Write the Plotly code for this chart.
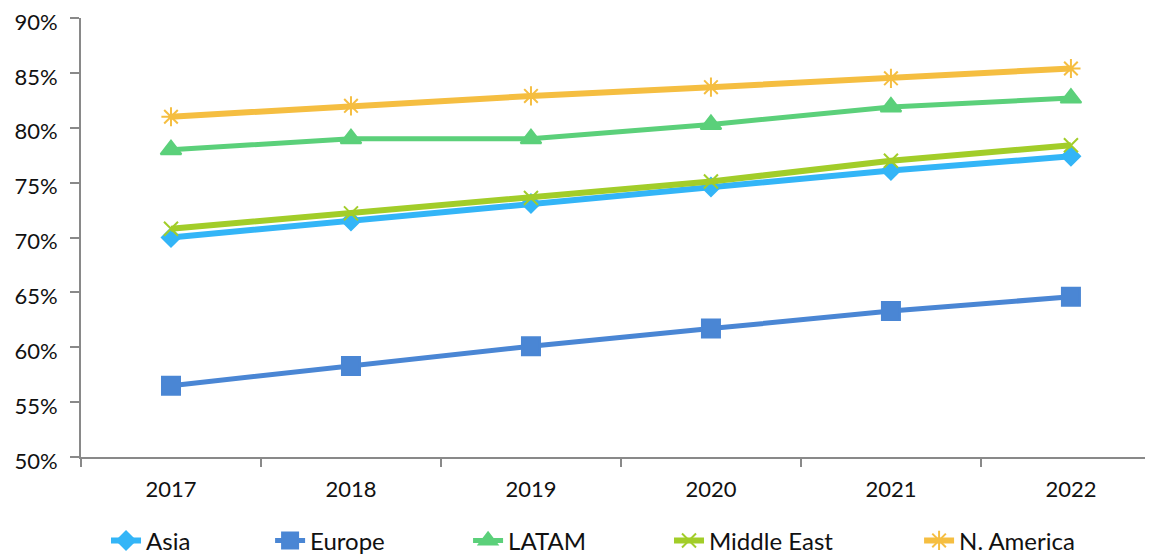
import plotly.graph_objects as go

years = ["2017", "2018", "2019", "2020", "2021", "2022"]
asia = [70.0, 71.5, 73.1, 74.6, 76.1, 77.4]
europe = [56.5, 58.3, 60.1, 61.7, 63.3, 64.6]
latam = [78.0, 79.0, 79.0, 80.3, 81.9, 82.7]
middle_east = [70.8, 72.2, 73.6, 75.1, 77.0, 78.4]
n_america = [81.0, 82.0, 82.9, 83.7, 84.5, 85.4]
y_ticks = [50, 55, 60, 65, 70, 75, 80, 85, 90]
y_tick_labels = ["50%", "55%", "60%", "65%", "70%", "75%", "80%", "85%", "90%"]

# name, values, colour, symbol, marker size, line width, legend x (container fraction)
series = [
    ("Asia", asia, "#33B5F7", "diamond", 14, 6, 0.0856),
    ("Europe", europe, "#4A86D4", "square", 18, 5, 0.2289),
    ("LATAM", latam, "#5BD07A", "triangle-up", 18, 5, 0.4018),
    ("Middle East", middle_east, "#A2CD29", "x-thin-open", 14, 6, 0.5773),
    ("N. America", n_america, "#F5BE41", "asterisk-open", 16, 6, 0.7957),
]

FONT = "Lato, 'Open Sans', sans-serif"
W, H = 1145, 546  # page body has an 8px margin

fig = go.Figure()
legend_layouts = {}
for i, (name, vals, color, sym, msize, lw, lx) in enumerate(series):
    lname = "legend" if i == 0 else f"legend{i + 1}"
    fig.add_trace(go.Scatter(
        x=years, y=vals, name=name, mode="lines+markers",
        line=dict(color=color, width=lw),
        marker=dict(symbol=sym, size=msize, color=color,
                    line=dict(color=color, width=2)),
        legend=lname,
    ))
    legend_layouts[lname] = dict(
        orientation="h", xref="container", yref="paper",
        x=lx, xanchor="left", y=-0.191, yanchor="middle",
        font=dict(size=24, family=FONT, color="#111111"),
        bgcolor="rgba(0,0,0,0)", borderwidth=0,
    )

fig.update_layout(
    width=W, height=H,
    margin=dict(l=73, r=0, t=10, b=97, autoexpand=False),
    paper_bgcolor="white", plot_bgcolor="white",
    font=dict(family=FONT, size=22, color="#111111"),
    showlegend=True,
    **legend_layouts,
)
fig.update_xaxes(
    type="category", range=[-0.5, 5.456], automargin=False,
    showline=True, linecolor="#898989", linewidth=2,
    ticks="outside", tickson="boundaries", ticklen=8, tickcolor="#898989", tickwidth=1.5,
    showgrid=False, zeroline=False,
    tickfont=dict(size=22, family=FONT), ticklabelstandoff=12,
)
fig.update_yaxes(
    range=[50, 90], tickvals=y_ticks, ticktext=y_tick_labels, automargin=False,
    showline=True, linecolor="#898989", linewidth=2,
    ticks="outside", ticklen=9, tickcolor="#898989", tickwidth=1.5,
    showgrid=False, zeroline=False, ticklabeloverflow="allow",
    tickfont=dict(size=22, family=FONT), ticklabelstandoff=8, ticklabelshift=4,
)
fig.write_html("out.html")
